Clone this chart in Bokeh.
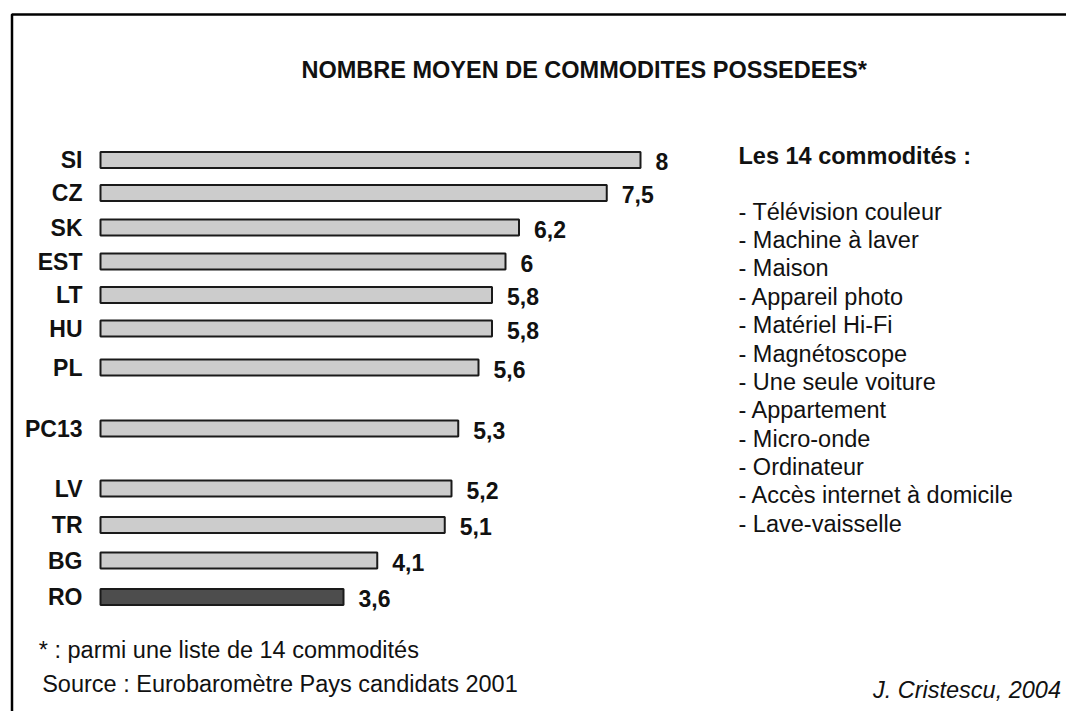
from bokeh.plotting import figure
from bokeh.models import Range1d, ColumnDataSource
from bokeh.core.properties import value
from bokeh.embed import file_html
from bokeh.resources import INLINE

# ---------------- data ----------------
countries = ["SI", "CZ", "SK", "EST", "LT", "HU", "PL", "PC13", "LV", "TR", "BG", "RO"]
averages = [8, 7.5, 6.2, 6, 5.8, 5.8, 5.6, 5.3, 5.2, 5.1, 4.1, 3.6]
highlight = "RO"

title_text = "NOMBRE MOYEN DE COMMODITES POSSEDEES*"
list_header = "Les 14 commodités :"
commodities = [
    "- Télévision couleur",
    "- Machine à laver",
    "- Maison",
    "- Appareil photo",
    "- Matériel Hi-Fi",
    "- Magnétoscope",
    "- Une seule voiture",
    "- Appartement",
    "- Micro-onde",
    "- Ordinateur",
    "- Accès internet à domicile",
    "- Lave-vaisselle",
]
note_text = "* : parmi une liste de 14 commodités"
source_text = "Source : Eurobaromètre Pays candidats 2001"
author_text = "J. Cristescu, 2004"

# ---------------- layout (page pixel positions) ----------------
row_y = [159.5, 192.5, 227, 261, 294.5, 328, 367, 428, 488, 524.5, 560, 596.5]
W, H = 1066, 711
PX0 = 100.0      # page x of value 0
PPU = 67.5       # pixels per unit

FONT = value("Liberation Sans")


def fmt(v):
    return ("%g" % v).replace(".", ",")


fill = ["#4d4d4d" if c == highlight else "#cccccc" for c in countries]
src = ColumnDataSource(dict(
    y=row_y,
    v=averages,
    lbl=[fmt(v) for v in averages],
    name=countries,
    color=fill,
    yv=[y + 1.5 for y in row_y],
))

p = figure(
    width=W, height=H,
    x_range=Range1d(-PX0 / PPU, (W - PX0) / PPU),
    y_range=Range1d(H, 0),
    output_backend="svg", toolbar_location=None,
    x_axis_location=None, y_axis_location=None,
    min_border=0,
)
p.extra_x_ranges = {"px": Range1d(0, W)}
p.grid.visible = False
p.outline_line_color = None
p.background_fill_color = "white"
p.border_fill_color = "white"

# frame (top and left visible)
p.line(x=[11.5, 11.5, 1080], y=[730, 14, 14], x_range_name="px",
       line_color="black", line_width=2.5)

# bars
p.hbar(y="y", left=0, right="v", height=16, source=src,
       fill_color="color", line_color="#1a1a1a", line_width=2)

common = dict(text_font=FONT, text_baseline="middle", text_color="#111111")

# category labels
p.text(x=82, y="y", text="name", source=src, x_range_name="px",
       text_font_style="bold", text_font_size="23px", text_align="right", **common)

# value labels
p.text(x="v", y="yv", text="lbl", source=src, x_offset=15,
       text_font_style="bold", text_font_size="23px", text_align="left", **common)

# title
p.text(x=[583.7], y=[69], text=[title_text], x_range_name="px",
       text_font_style="bold", text_font_size="23.5px", text_align="center", **common)

# commodities list
p.text(x=[738], y=[155.5], text=[list_header], x_range_name="px",
       text_font_style="bold", text_font_size="23.5px", text_align="left", **common)
list_y = [211.1 + 28.38 * i for i in range(len(commodities))]
p.text(x=[738] * len(commodities), y=list_y, text=commodities, x_range_name="px",
       text_font_size="23.5px", text_align="left", **common)

# footnotes
p.text(x=[38.3], y=[649.8], text=[note_text], x_range_name="px",
       text_font_size="23.5px", text_align="left", **common)
p.text(x=[41.7], y=[683.5], text=[source_text], x_range_name="px",
       text_font_size="23.5px", text_align="left", **common)
p.text(x=[1060.5], y=[689.8], text=[author_text], x_range_name="px",
       text_font_style="italic", text_font_size="23.5px", text_align="right", **common)

open("out.html", "w").write(file_html(p, INLINE))
